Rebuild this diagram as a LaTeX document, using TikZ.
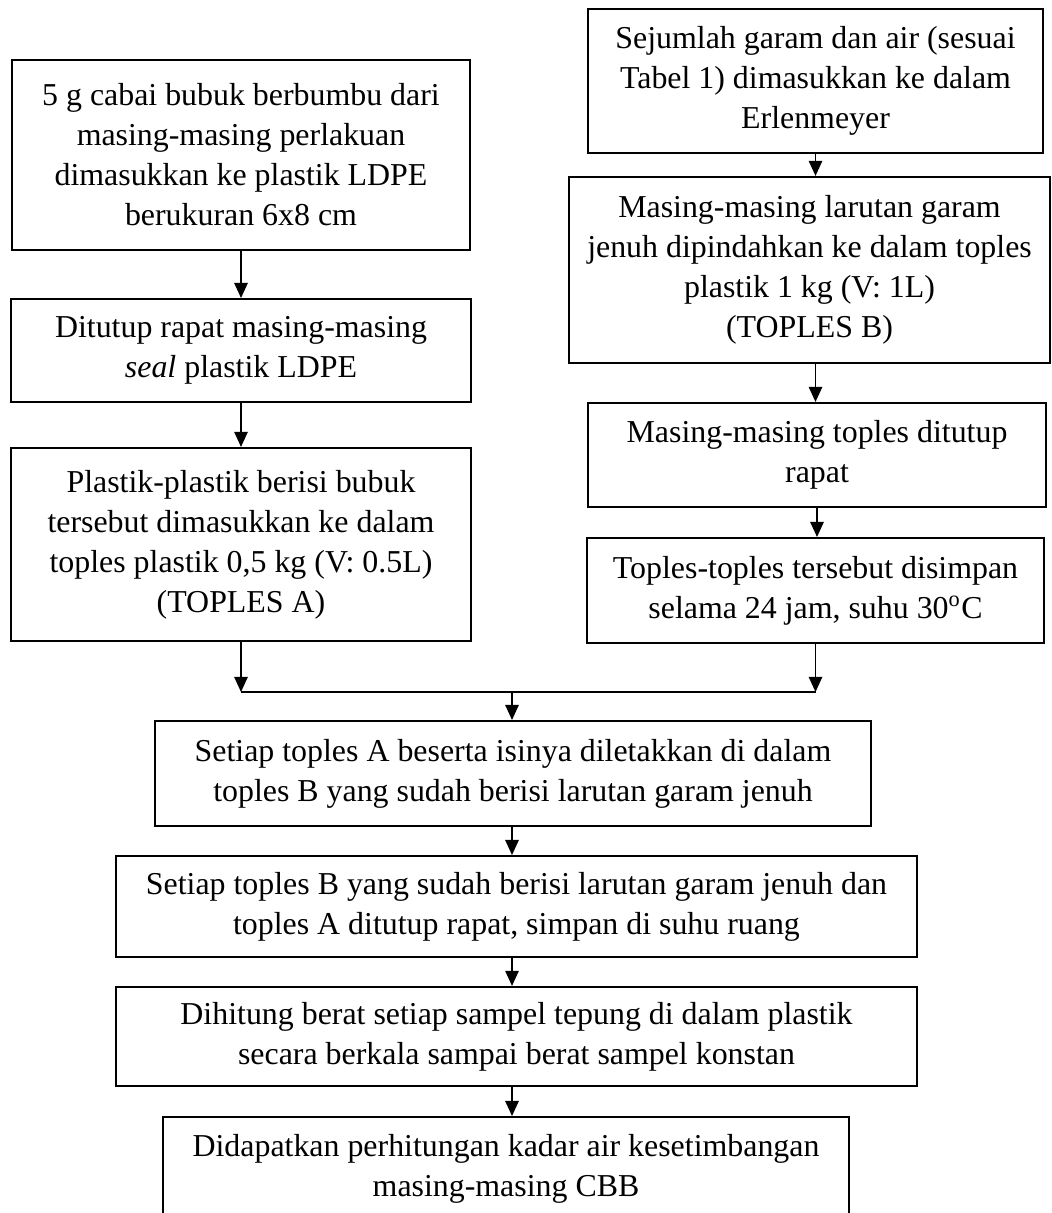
\documentclass[tikz,border=0pt]{standalone}
\usepackage{fontspec}
\setmainfont{Liberation Serif}
\usepackage{tikz}
\usetikzlibrary{arrows.meta}
\usetikzlibrary{calc}

\begin{document}
\begin{tikzpicture}[x=0.345pt,y=-0.345pt,->,>={Triangle[length=5.2pt,width=4.6pt]},line width=0.6pt]
	\tikzstyle{every node}=[font=\fontsize{11pt}{13.8pt}\selectfont]
	\tikzstyle{box}=[draw=black, line width=0.7pt, align=center, inner sep=1pt]
	\useasboundingbox (0,0) rectangle (1051,1213);
	% left column
	\node[box, minimum width=158pt, minimum height=65.6pt] (L1) at (241,155) {5 g cabai bubuk berbumbu dari\\masing-masing perlakuan\\dimasukkan ke plastik LDPE\\berukuran 6x8 cm};
	\node[box, minimum width=158.4pt, minimum height=35.5pt] (L2) at (241,350.5) {Ditutup rapat masing-masing\\\textit{seal} plastik LDPE};
	\node[box, minimum width=158.4pt, minimum height=66.6pt] (L3) at (241,544.5) {Plastik-plastik berisi bubuk\\tersebut dimasukkan ke dalam\\toples plastik 0,5 kg (V: 0.5L)\\(TOPLES A)};
	% right column
	\node[box, minimum width=157pt, minimum height=49.7pt] (R1) at (815.5,81) {Sejumlah garam dan air (sesuai\\Tabel 1) dimasukkan ke dalam\\Erlenmeyer};
	\node[box, minimum width=166pt, minimum height=64.2pt] (R2) at (809.5,270) {Masing-masing larutan garam\\jenuh dipindahkan ke dalam toples\\plastik 1 kg (V: 1L)\\(TOPLES B)};
	\node[box, minimum width=158pt, minimum height=35.9pt] (R3) at (817,455) {Masing-masing toples ditutup\\rapat};
	\node[box, minimum width=157.7pt, minimum height=36.2pt] (R4) at (815.5,590.5) {Toples-toples tersebut disimpan\\selama 24 jam, suhu 30\textsuperscript{o}C};
	% middle column
	\node[box, minimum width=247pt, minimum height=36.2pt] (M1) at (513,773.5) {Setiap toples A beserta isinya diletakkan di dalam\\toples B yang sudah berisi larutan garam jenuh};
	\node[box, minimum width=276.3pt, minimum height=34.8pt] (M2) at (516.5,906.5) {Setiap toples B yang sudah berisi larutan garam jenuh dan\\toples A ditutup rapat, simpan di suhu ruang};
	\node[box, minimum width=276.3pt, minimum height=34.2pt] (M3) at (516.5,1036.5) {Dihitung berat setiap sampel tepung di dalam plastik\\secara berkala sampai berat sampel konstan};
	\node[box, minimum width=236.7pt, minimum height=35.5pt] (M4) at (506,1168.5) {Didapatkan perhitungan kadar air kesetimbangan\\masing-masing CBB};
	\coordinate (J) at (512,692);
	\coordinate (JL) at (L3.south |- J);
	\coordinate (JR) at (R4.south |- J);
	\draw[-] (JL) -- (JR);
	\path
		(L1.south) edge (L1.south |- L2.north)
		(L2.south) edge (L2.south |- L3.north)
		(L3.south) edge (JL)
		(R1.south) edge (R1.south |- R2.north)
		(R1.south |- R2.south) edge (R1.south |- R3.north)
		(R3.south) edge (R3.south |- R4.north)
		(R4.south) edge (JR)
		(J) edge (J |- M1.north)
		(J |- M1.south) edge (J |- M2.north)
		(J |- M2.south) edge (J |- M3.north)
		(J |- M3.south) edge (J |- M4.north);
\end{tikzpicture}
\end{document}
